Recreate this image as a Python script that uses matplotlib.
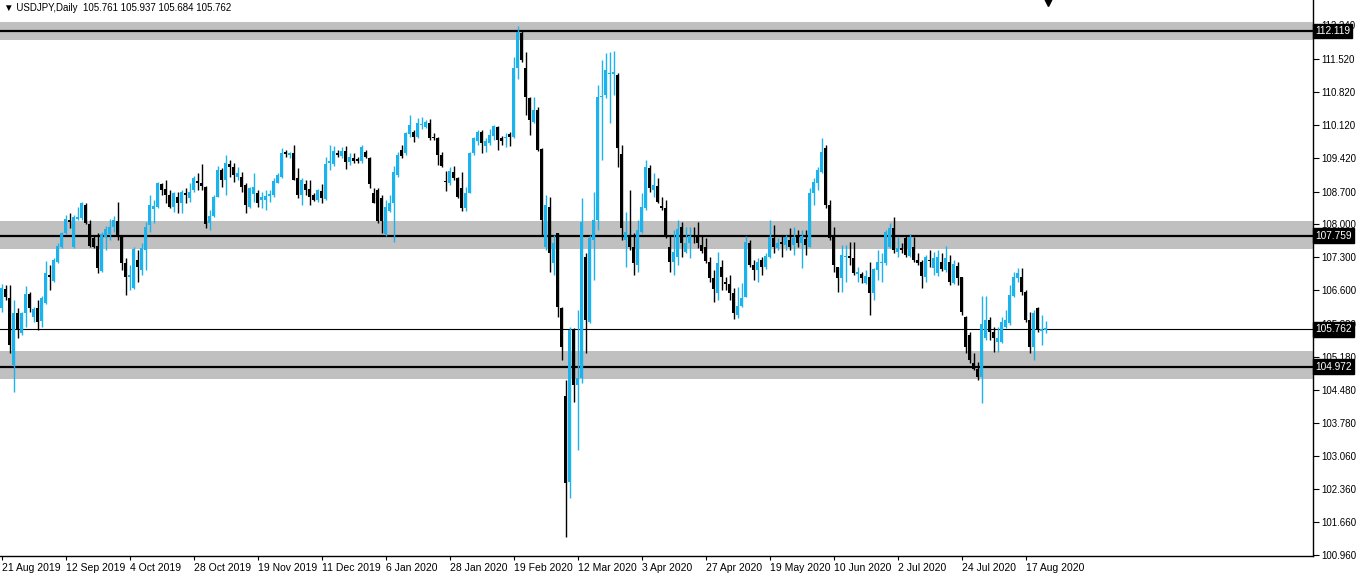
import matplotlib
matplotlib.use("Agg")
import matplotlib.pyplot as plt
import numpy as np

plt.rcParams['font.family'] = ['Liberation Sans', 'DejaVu Sans']

opens = [106.22,106.62,106.43,105.00,106.11,105.69,106.11,106.52,106.03,106.22,
105.94,106.33,106.92,106.79,107.20,107.52,107.82,108.09,107.52,108.11,
108.14,108.41,108.01,107.71,107.54,107.01,107.73,107.80,107.95,108.07,
107.73,107.18,106.88,106.65,107.24,107.03,107.45,107.99,108.33,108.37,
108.86,108.75,108.63,108.37,108.58,108.46,108.67,108.56,108.73,108.92,
108.88,108.80,108.03,108.18,108.58,109.16,108.95,109.29,109.22,109.01,
109.01,108.84,108.37,108.65,108.67,108.52,108.52,108.61,108.63,108.88,
109.01,109.54,109.48,109.52,108.99,108.63,108.86,108.75,108.63,108.52,
108.71,108.54,109.31,109.29,109.52,109.46,109.56,109.33,109.41,109.39,
109.35,109.54,109.41,108.67,108.73,108.56,107.80,108.29,108.46,109.05,
109.59,109.52,109.93,109.97,109.86,110.12,110.07,110.16,109.86,109.84,
109.48,108.92,108.88,109.12,108.99,108.78,108.35,108.67,109.52,109.78,
109.97,109.67,109.73,109.88,110.07,109.84,109.84,109.93,109.86,111.33,
112.08,111.33,110.69,110.18,110.44,109.61,107.52,108.37,107.18,107.82,
106.22,104.35,102.51,105.75,104.58,104.73,107.31,105.92,107.67,108.09,
110.71,110.76,111.20,111.20,111.18,109.50,107.67,107.75,107.52,107.14,
107.84,108.35,109.20,108.73,108.82,108.39,108.35,107.52,107.20,107.31,
107.95,107.41,107.60,107.75,107.73,107.56,107.52,107.20,106.86,106.54,
107.09,106.77,106.73,106.54,106.07,106.26,106.45,107.60,107.14,107.03,
107.24,107.09,107.31,107.71,107.50,107.62,107.56,107.67,107.56,107.73,
107.60,107.69,107.52,108.67,108.88,109.12,109.63,108.41,107.73,107.09,
106.86,107.31,107.33,107.28,106.94,106.94,106.75,106.88,106.54,107.03,
107.18,107.18,107.52,107.92,107.41,107.50,107.71,107.33,107.52,107.24,
107.20,106.88,107.24,107.07,106.97,107.20,107.03,107.20,106.75,107.11,
106.88,106.03,105.64,105.05,104.92,104.75,105.58,105.96,105.71,105.50,
105.50,105.81,105.90,106.48,106.86,106.88,106.56,105.96,105.39,106.22,
105.73,105.761]

highs = [106.73,106.71,106.71,106.39,106.22,106.13,106.69,106.56,106.24,106.39,
106.48,107.22,107.14,107.28,107.60,107.84,108.20,108.24,108.20,108.37,
108.48,108.46,108.09,107.77,107.82,107.84,107.97,108.11,108.18,108.48,
107.77,107.28,107.14,107.52,107.45,107.60,108.05,108.63,108.52,108.90,
108.88,108.95,108.73,108.69,108.69,108.73,108.78,108.88,109.03,109.09,
109.29,108.82,108.31,108.63,109.24,109.20,109.48,109.37,109.31,109.22,
109.12,108.88,108.80,109.09,108.73,108.69,108.73,108.73,108.99,109.09,
109.63,109.59,109.54,109.69,109.20,108.99,108.95,108.95,108.67,108.75,
108.86,109.44,109.69,109.67,109.59,109.65,109.67,109.52,109.52,109.44,
109.69,109.59,109.44,108.78,108.78,108.63,108.52,108.63,109.24,109.54,
109.69,109.97,110.33,110.01,110.27,110.29,110.22,110.24,109.95,109.86,
109.54,109.14,109.22,109.24,109.01,109.12,108.80,109.54,109.86,110.01,
110.01,109.84,110.03,110.12,110.09,109.88,109.95,109.97,111.57,112.23,
112.14,111.67,110.71,110.71,110.50,109.63,108.63,108.58,107.77,107.82,
106.24,104.69,105.81,105.79,106.18,108.56,107.39,107.77,108.69,110.97,
111.50,111.65,111.67,111.69,111.23,109.69,108.26,108.73,107.82,108.09,
108.67,109.37,109.27,109.09,108.99,108.58,108.52,107.77,107.88,108.09,
108.05,107.95,107.95,107.95,108.05,107.75,107.71,107.31,107.03,107.41,
107.24,106.88,106.92,106.65,106.67,106.75,107.75,107.67,107.24,107.28,
107.31,107.39,108.09,107.99,107.71,107.77,107.77,107.92,107.95,107.88,
107.88,107.88,108.78,108.99,109.22,109.84,109.69,108.52,107.95,107.09,
107.56,107.56,107.62,107.62,107.09,106.99,107.03,107.20,107.07,107.45,
107.39,107.88,108.03,108.16,107.73,107.60,107.77,107.80,107.73,107.39,
107.24,107.35,107.45,107.41,107.45,107.39,107.54,107.35,107.24,107.20,
106.88,106.05,105.71,105.26,105.07,106.48,106.48,106.03,105.81,105.81,
106.03,106.18,106.71,106.99,107.07,107.07,106.60,106.13,106.18,106.24,
106.07,105.937]

lows = [106.13,106.39,105.26,104.43,105.58,105.64,105.81,106.13,105.92,105.75,
105.81,106.30,106.60,106.77,107.18,107.50,107.80,107.92,107.50,108.09,
108.09,108.01,107.52,107.50,106.97,106.99,107.45,107.67,107.84,107.67,
107.03,106.50,106.60,106.62,106.77,106.92,107.03,107.84,108.03,108.35,
108.63,108.46,108.35,108.26,108.24,108.24,108.46,108.48,108.69,108.73,
108.73,107.92,107.88,108.16,108.58,108.80,108.63,109.01,108.90,108.95,
108.69,108.24,108.35,108.48,108.37,108.35,108.31,108.48,108.58,108.88,
108.99,109.44,109.41,108.95,108.56,108.41,108.63,108.41,108.50,108.48,
108.46,108.52,109.16,109.24,109.44,109.41,109.18,109.27,109.31,109.31,
109.31,109.41,108.78,108.46,108.03,107.82,107.75,108.26,107.62,109.01,
109.41,109.48,109.86,109.76,109.84,110.03,110.05,109.80,109.80,109.27,
109.22,108.71,108.84,108.95,108.56,108.29,108.29,108.67,109.48,109.69,
109.52,109.54,109.69,109.80,109.59,109.69,109.65,109.67,109.84,111.10,
111.46,110.33,109.90,110.16,109.56,107.75,107.45,106.99,106.92,106.03,
105.11,101.34,102.17,104.22,103.20,104.62,105.26,105.90,106.82,107.88,
109.37,110.69,110.16,110.76,109.22,107.67,107.09,107.45,106.92,106.99,
107.82,108.31,108.69,108.58,108.46,108.31,107.71,106.99,106.92,107.14,
107.31,107.39,107.28,107.60,107.50,107.39,107.18,106.77,106.35,106.39,
106.60,106.60,106.39,105.99,106.01,106.24,106.45,107.09,106.82,106.77,
106.92,107.05,107.28,107.39,107.45,107.31,107.45,107.45,107.35,107.52,
107.07,107.35,107.52,108.41,108.73,109.09,108.35,107.67,106.99,106.56,
106.56,106.77,107.14,106.92,106.77,106.75,106.73,106.07,106.39,106.82,
106.77,107.14,107.50,107.39,107.31,107.39,107.31,107.31,107.20,107.14,
106.65,106.77,107.09,106.92,106.90,107.01,106.99,106.71,106.73,106.71,
106.07,105.26,105.05,104.90,104.69,104.20,105.54,105.54,105.28,105.28,
105.47,105.79,105.86,106.45,106.77,106.50,105.92,105.26,105.11,105.71,
105.43,105.684]

closes = [106.65,106.45,105.43,106.11,105.77,106.11,106.52,106.22,106.20,105.92,
106.43,106.97,106.88,107.24,107.54,107.82,108.11,108.05,108.16,108.16,
108.46,108.03,107.54,107.52,107.07,107.80,107.90,107.95,108.09,107.73,
107.18,106.88,106.92,107.48,107.09,107.50,107.95,108.41,108.39,108.88,
108.73,108.63,108.37,108.67,108.46,108.69,108.63,108.69,108.99,108.88,
108.82,108.01,108.18,108.58,109.16,108.95,109.31,109.22,109.05,109.09,
108.80,108.41,108.78,108.80,108.46,108.58,108.61,108.65,108.92,109.05,
109.52,109.50,109.52,108.95,108.63,108.95,108.73,108.58,108.52,108.73,
108.56,109.29,109.35,109.56,109.48,109.56,109.33,109.44,109.35,109.35,
109.65,109.44,108.86,108.46,108.07,108.07,108.37,108.46,109.12,109.48,
109.46,109.95,110.12,109.86,110.16,110.14,110.18,109.84,109.84,109.48,
109.24,108.90,109.14,108.99,108.58,108.35,108.67,109.52,109.84,109.97,
109.73,109.78,109.90,110.09,109.80,109.78,109.86,109.86,111.33,112.10,
111.50,110.71,110.22,110.44,109.59,108.09,108.41,107.39,107.60,106.24,
105.39,102.49,105.75,104.58,104.73,108.05,105.96,107.71,108.09,110.71,
110.73,111.29,111.22,111.25,109.63,107.92,107.84,107.52,107.18,107.88,
108.37,109.22,108.78,108.84,108.48,108.35,107.73,107.20,107.41,107.90,
107.60,107.60,107.75,107.73,107.60,107.43,107.22,106.86,106.62,107.18,
106.88,106.73,106.54,106.11,106.26,106.43,107.62,107.14,107.03,107.20,
107.09,107.33,107.73,107.52,107.60,107.58,107.73,107.52,107.71,107.60,
107.75,107.56,108.67,108.90,109.16,109.54,108.41,107.71,107.14,106.86,
107.35,107.33,107.28,106.97,106.99,106.86,106.90,106.54,107.05,107.20,
107.20,107.84,107.92,107.45,107.50,107.45,107.35,107.73,107.24,107.18,
106.90,107.31,107.22,107.28,107.31,107.05,107.28,106.77,107.16,106.86,
106.13,105.39,105.11,104.92,104.75,105.88,105.96,105.71,105.58,105.58,
105.92,105.96,106.50,106.88,106.97,106.56,105.96,105.39,106.11,105.75,
105.77,105.762]

date_labels = ["21 Aug 2019", "12 Sep 2019", "4 Oct 2019", "28 Oct 2019", "19 Nov 2019",
               "11 Dec 2019", "6 Jan 2020", "28 Jan 2020", "19 Feb 2020", "12 Mar 2020",
               "3 Apr 2020", "27 Apr 2020", "19 May 2020", "10 Jun 2020", "2 Jul 2020",
               "24 Jul 2020", "17 Aug 2020"]
date_label_bars = [0, 16, 32, 48, 64, 80, 96, 112, 128, 144, 160, 176, 192, 208, 224, 240, 256]

price_ticks = [112.240, 111.520, 110.820, 110.120, 109.420, 108.700, 108.000, 107.300,
               106.600, 105.880, 105.180, 104.480, 103.780, 103.060, 102.360, 101.660, 100.960]

levels = [112.119, 107.759, 104.972]
zones = [(111.93, 112.31), (107.48, 108.07), (104.71, 105.30)]
current_price = 105.762
title_text = "USDJPY,Daily  105.761 105.937 105.684 105.762"

BULL = "#1CB3EC"
BEAR = "#000000"
ZONE = "#C0C0C0"

W, H = 1358, 577
fig = plt.figure(figsize=(W / 100, H / 100), dpi=100)
fig.patch.set_facecolor("white")
ax = fig.add_axes([0, 21 / H, 1313 / W, 556 / H])

o = np.array(opens); h = np.array(highs); l = np.array(lows); c = np.array(closes)
x = np.arange(len(o))
bull = c >= o
cols = np.where(bull, BULL, BEAR)

for lo, hi in zones:
    ax.axhspan(lo, hi, color=ZONE, lw=0, zorder=1)
for lv in levels:
    ax.axhline(lv, color="black", lw=1.6, zorder=2)
ax.axhline(current_price, color="black", lw=0.8, zorder=2)

ax.vlines(x, l, h, colors=cols, lw=1.0, zorder=3)
body_h = np.maximum(np.abs(c - o), 0.022)
body_b = np.minimum(o, c)
ax.bar(x, body_h, bottom=body_b, width=0.75, color=cols, lw=0, zorder=4)

ax.set_xlim(-0.375, 327.875)
ax.set_ylim(100.937, 112.78)

for side in ("left", "top"):
    ax.spines[side].set_visible(False)
for side in ("right", "bottom"):
    ax.spines[side].set_color("black")
    ax.spines[side].set_linewidth(1.0)

ax.yaxis.tick_right()
ax.set_yticks(price_ticks)
ax.set_yticklabels([f"{v:.3f}" for v in price_ticks])
ax.tick_params(axis="y", direction="out", length=4, width=0.8, pad=2,
               labelsize=7, colors="black")
ax.set_xticks(date_label_bars)
ax.set_xticklabels(date_labels, ha="left")
ax.tick_params(axis="x", direction="out", length=3, width=0.8, pad=2,
               labelsize=7.5, colors="black")

ytr = ax.get_yaxis_transform()
for lv in levels + [current_price]:
    ax.text(1.0015, lv, f"{lv:.3f}", transform=ytr, ha="left", va="center",
            fontsize=7.3, color="white", clip_on=False, zorder=10,
            bbox=dict(boxstyle="square,pad=0.22", fc="black", ec="black"))

ax.plot([len(o) - 1 + 0.6], [1.0], marker="v", ms=8, color="black",
        transform=ax.get_xaxis_transform(), clip_on=False, zorder=10)

fig.text(4 / W, 1 - 8 / H, "\u25BC " + title_text, fontsize=7, ha="left", va="center",
         color="black")

fig.savefig("out.png", dpi=100, facecolor="white")
